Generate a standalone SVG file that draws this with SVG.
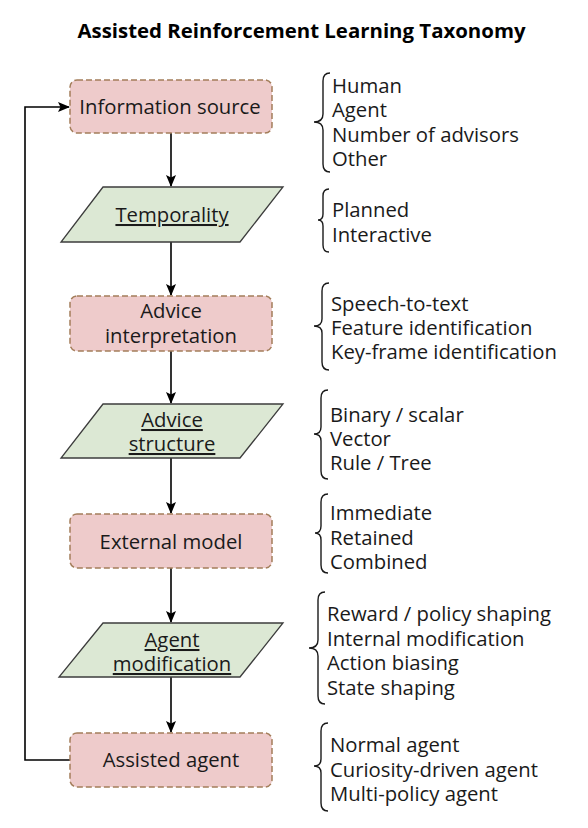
<svg xmlns="http://www.w3.org/2000/svg" width="588" height="828" viewBox="0 0 588 828">
<style>
  .bg { fill: #ffffff; }
  .title { font-family: "Open Sans", "Liberation Sans", sans-serif; font-weight: bold; font-size: 20.4px; fill: #000; text-anchor: middle; }
  .box { fill: #eecbcb; stroke: #a47e5b; stroke-width: 1.5; stroke-dasharray: 6 3; }
  .para { fill: #dce8d4; stroke: #3c3c3c; stroke-width: 1.3; }
  .lbl { font-family: "Open Sans", "Liberation Sans", sans-serif; font-size: 20.3px; fill: #1a1a1a; text-anchor: middle; }
  .u { text-decoration: underline; }
  .item { font-family: "Open Sans", "Liberation Sans", sans-serif; font-size: 20.3px; fill: #1a1a1a; }
  .brace { fill: none; stroke: #1a1a1a; stroke-width: 1.4; }
  .conn { fill: none; stroke: #000; stroke-width: 1.6; }
</style>
<rect class="bg" x="0" y="0" width="588" height="828"/>
<text class="title" x="301.5" y="38">Assisted Reinforcement Learning Taxonomy</text>

<g id="connectors">
  <line class="conn" x1="171" y1="133" x2="171" y2="186"/>
  <line class="conn" x1="171" y1="242" x2="171" y2="295"/>
  <line class="conn" x1="171" y1="351" x2="171" y2="403"/>
  <line class="conn" x1="171" y1="458" x2="171" y2="513"/>
  <line class="conn" x1="171" y1="568" x2="171" y2="622"/>
  <line class="conn" x1="171" y1="677" x2="171" y2="732"/>
  <path class="conn" d="M70,760 H25 V107 H69"/>
  <g fill="#000">
    <path d="M171,187 L166,175 L171,177.5 L176,175 Z"/>
    <path d="M171,296 L166,284 L171,286.5 L176,284 Z"/>
    <path d="M171,404 L166,392 L171,394.5 L176,392 Z"/>
    <path d="M171,514 L166,502 L171,504.5 L176,502 Z"/>
    <path d="M171,623 L166,611 L171,613.5 L176,611 Z"/>
    <path d="M171,733 L166,721 L171,723.5 L176,721 Z"/>
    <path d="M70,107 L58,102 L60.5,107 L58,112 Z"/>
  </g>
</g>

<g id="information-source">
  <rect class="box" x="70" y="80" width="202" height="53" rx="7"/>
  <text class="lbl" x="170" y="114">Information source</text>
</g>
<g id="temporality">
  <polygon class="para" points="103,187 283,187 240,242 61,242"/>
  <text class="lbl u" x="172" y="222">Temporality</text>
</g>
<g id="advice-interpretation">
  <rect class="box" x="70" y="296" width="202" height="55" rx="7"/>
  <text class="lbl" x="171" y="318">Advice</text>
  <text class="lbl" x="171" y="343">interpretation</text>
</g>
<g id="advice-structure">
  <polygon class="para" points="103,404 283,404 240,458 61,458"/>
  <text class="lbl u" x="172" y="427">Advice</text>
  <text class="lbl u" x="172" y="451">structure</text>
</g>
<g id="external-model">
  <rect class="box" x="70" y="514" width="202" height="54" rx="7"/>
  <text class="lbl" x="171" y="549">External model</text>
</g>
<g id="agent-modification">
  <polygon class="para" points="103,623 283,623 240,677 59,677"/>
  <text class="lbl u" x="172" y="647">Agent</text>
  <text class="lbl u" x="172" y="671">modification</text>
</g>
<g id="assisted-agent">
  <rect class="box" x="70" y="733" width="202" height="54" rx="7"/>
  <text class="lbl" x="171" y="767">Assisted agent</text>
</g>

<g id="list-information-source">
  <path class="brace" d="M330,73 Q323,73 323,81 L323,114 Q323,122 314,122 Q323,122 323,130 L323,164 Q323,172 330,172"/>
  <text class="item" x="332" y="93">Human</text>
  <text class="item" x="332" y="117">Agent</text>
  <text class="item" x="332" y="142">Number of advisors</text>
  <text class="item" x="332" y="166">Other</text>
</g>
<g id="list-temporality">
  <path class="brace" d="M329,189 Q323,189 323,196 L323,214 Q323,220 318,220 Q323,220 323,226 L323,245 Q323,252 329,252"/>
  <text class="item" x="332" y="217">Planned</text>
  <text class="item" x="332" y="242">Interactive</text>
</g>
<g id="list-advice-interpretation">
  <path class="brace" d="M329,283 Q322,283 322,291 L322,319 Q322,326 314,326 Q322,326 322,333 L322,362 Q322,370 329,370"/>
  <text class="item" x="331" y="311">Speech-to-text</text>
  <text class="item" x="331" y="335">Feature identification</text>
  <text class="item" x="331" y="359">Key-frame identification</text>
</g>
<g id="list-advice-structure">
  <path class="brace" d="M328,390 Q321,390 321,398 L321,427 Q321,434 314,434 Q321,434 321,441 L321,471 Q321,479 328,479"/>
  <text class="item" x="330" y="422">Binary / scalar</text>
  <text class="item" x="330" y="446">Vector</text>
  <text class="item" x="330" y="470">Rule / Tree</text>
</g>
<g id="list-external-model">
  <path class="brace" d="M328,494 Q321,494 321,502 L321,526 Q321,533 315,533 Q321,533 321,540 L321,565 Q321,573 328,573"/>
  <text class="item" x="330" y="520">Immediate</text>
  <text class="item" x="330" y="545">Retained</text>
  <text class="item" x="330" y="569">Combined</text>
</g>
<g id="list-agent-modification">
  <path class="brace" d="M325,592 Q318,592 318,600 L318,640 Q318,648 309,648 Q318,648 318,656 L318,696 Q318,704 325,704"/>
  <text class="item" x="327" y="621">Reward / policy shaping</text>
  <text class="item" x="327" y="646">Internal modification</text>
  <text class="item" x="327" y="670">Action biasing</text>
  <text class="item" x="327" y="695">State shaping</text>
</g>
<g id="list-assisted-agent">
  <path class="brace" d="M328,723 Q321,723 321,731 L321,759 Q321,766 314,766 Q321,766 321,773 L321,803 Q321,811 328,811"/>
  <text class="item" x="330" y="752">Normal agent</text>
  <text class="item" x="330" y="777">Curiosity-driven agent</text>
  <text class="item" x="330" y="801">Multi-policy agent</text>
</g>
</svg>
